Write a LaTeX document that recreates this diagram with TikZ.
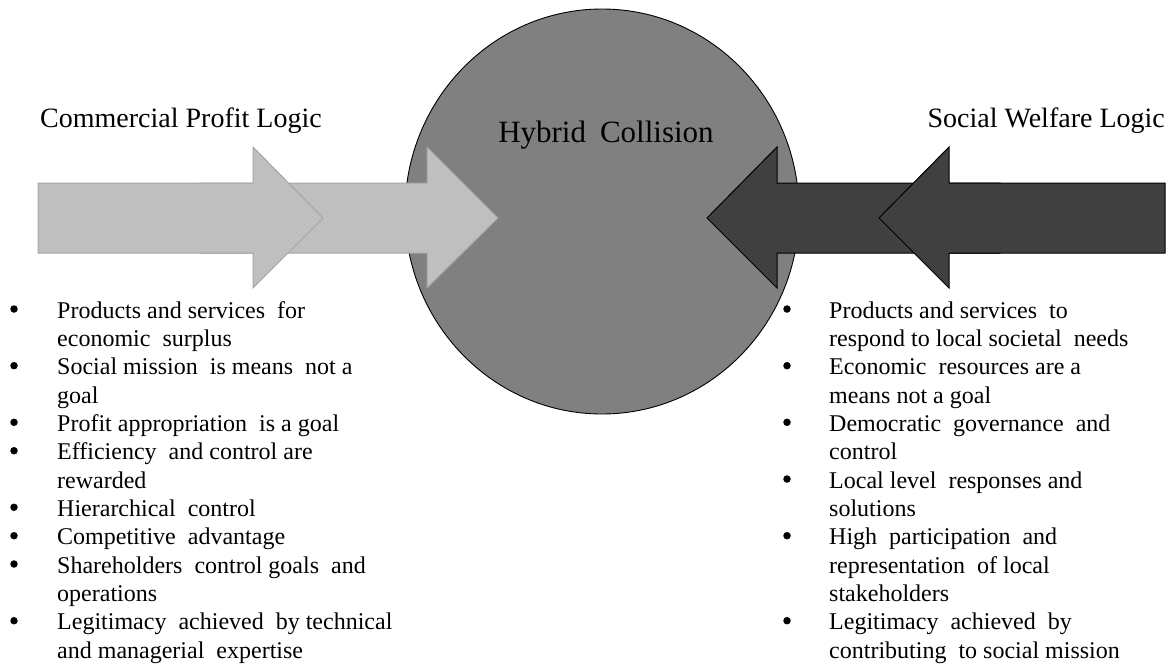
\documentclass[tikz,border=0pt]{standalone}
\usepackage{fontspec}
\setmainfont{Liberation Serif}
\usetikzlibrary{shapes.geometric}
\begin{document}
\begin{tikzpicture}[x=1pt,y=-1pt,
  title/.style={font=\fontsize{28}{32}\selectfont, inner sep=0pt},
  item/.style={font=\fontsize{24}{28}\selectfont, inner sep=0pt, anchor=base west},
  dot/.style={circle, fill=black, inner sep=0pt, minimum size=7.5pt},
  lightarrow/.style={fill=lightfill, draw=lightedge, line width=1pt, line join=miter},
  darkarrow/.style={fill=darkfill, draw=black, line width=1pt, line join=miter}]
\definecolor{lightfill}{HTML}{BFBFBF}
\definecolor{lightedge}{HTML}{A5A5A5}
\definecolor{darkfill}{HTML}{404040}
\definecolor{hubfill}{HTML}{808080}
\useasboundingbox (0,0) rectangle (1172,664);

% central collision zone
\node[ellipse, fill=hubfill, draw=black, line width=0.9pt, minimum width=394pt, minimum height=405pt, inner sep=0pt] (hub) at (602,211.5) {};

% commercial logic arrows (rear one first)
\draw[lightarrow] (200,183) -- (427,183) -- (427,147) -- (498,218) -- (427,288) -- (427,253) -- (200,253) -- cycle;
\draw[lightarrow] (38,183) -- (253,183) -- (253,147) -- (323,218) -- (253,288) -- (253,253) -- (38,253) -- cycle;

% social welfare arrows (rear one first)
\draw[darkarrow] (1000,183) -- (777,183) -- (777,147) -- (707,218) -- (777,288) -- (777,253) -- (1000,253) -- cycle;
\draw[darkarrow] (1165,183) -- (949,183) -- (949,147) -- (879,218) -- (949,288) -- (949,253) -- (1165,253) -- cycle;

% headings
\node[title, anchor=base west] (lefttitle) at (40,127) {Commercial Profit Logic};
\node[title, anchor=base east] (righttitle) at (1165,127) {Social Welfare Logic};
\node[title, font=\fontsize{31}{34}\selectfont, anchor=base] (hubtitle) at (606,142) {Hybrid\hspace{0.45em}Collision};

% commercial logic list
\node[dot] (lb1) at (14,309) {};
\node[item] (l1) at (57,318) {Products and services\ \ for};
\node[item] (l2) at (57,346.3) {economic\ \ surplus};
\node[dot] (lb2) at (14,365.7) {};
\node[item] (l3) at (57,374.7) {Social mission\ \ is means\ \ not a};
\node[item] (l4) at (57,403) {goal};
\node[dot] (lb3) at (14,422.3) {};
\node[item] (l5) at (57,431.3) {Profit appropriation\ \ is a goal};
\node[dot] (lb4) at (14,450.7) {};
\node[item] (l6) at (57,459.7) {Efficiency\ \ and control are};
\node[item] (l7) at (57,488) {rewarded};
\node[dot] (lb5) at (14,507.3) {};
\node[item] (l8) at (57,516.3) {Hierarchical\ \ control};
\node[dot] (lb6) at (14,535.7) {};
\node[item] (l9) at (57,544.7) {Competitive\ \ advantage};
\node[dot] (lb7) at (14,564) {};
\node[item] (l10) at (57,573) {Shareholders\ \ control goals\ \ and};
\node[item] (l11) at (57,601.3) {operations};
\node[dot] (lb8) at (14,620.7) {};
\node[item] (l12) at (57,629.7) {Legitimacy\ \ achieved\ \ by technical};
\node[item] (l13) at (57,658) {and managerial\ \ expertise};

% social welfare list
\node[dot] (rb1) at (787,309) {};
\node[item] (r1) at (829,318) {Products\ and services\ \ to};
\node[item] (r2) at (829,346.3) {respond to local\ societal\ \ needs};
\node[dot] (rb2) at (787,365.7) {};
\node[item] (r3) at (829,374.7) {Economic\ \ resources are a};
\node[item] (r4) at (829,403) {means\ not a goal};
\node[dot] (rb3) at (787,422.3) {};
\node[item] (r5) at (829,431.3) {Democratic\ \ governance\ \ and};
\node[item] (r6) at (829,459.7) {control};
\node[dot] (rb4) at (787,479) {};
\node[item] (r7) at (829,488) {Local level\ \ responses\ and};
\node[item] (r8) at (829,516.3) {solutions};
\node[dot] (rb5) at (787,535.7) {};
\node[item] (r9) at (829,544.7) {High\ \ participation\ \ and};
\node[item] (r10) at (829,573) {representation\ \ of local};
\node[item] (r11) at (829,601.3) {stakeholders};
\node[dot] (rb6) at (787,620.7) {};
\node[item] (r12) at (829,629.7) {Legitimacy\ \ achieved\ \ by};
\node[item] (r13) at (829,658) {contributing\ \ to social mission};
\end{tikzpicture}
\end{document}
